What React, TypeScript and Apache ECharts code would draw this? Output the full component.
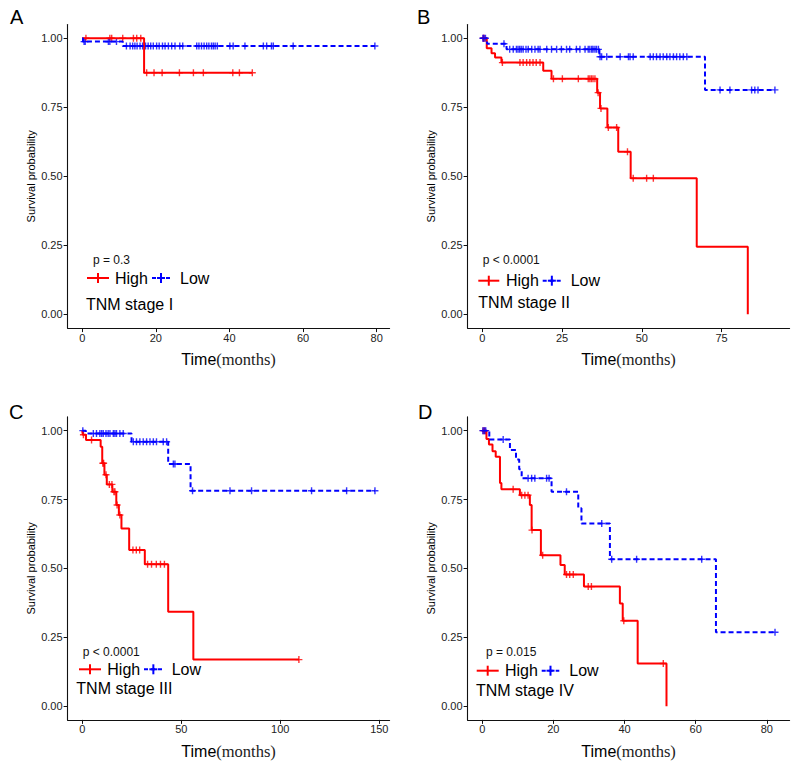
import React, { useEffect, useRef } from "react";
import * as echarts from "echarts";

// ---------- Data ----------
// Panel A – TNM stage I
const A_HIGH_T = [0, 16.8];
const A_HIGH_S = [1.0, 0.875];
const A_HIGH_C = [1.0, 7.5, 8.0, 11.0, 13.9, 14.8, 15.9, 17.5, 19.5, 21.7, 26.4, 30.2, 32.9, 40.9, 42.7, 46.2];
const A_LOW_T = [0, 0.2, 11.0];
const A_LOW_S = [1.0, 0.988, 0.972];
const A_LOW_C = [0.5, 0.8, 7.1, 7.5, 9.3, 12.0, 13.0, 13.7, 14.3, 14.9, 15.7, 16.4, 17.2, 17.9, 18.6, 19.3, 20.2, 20.9, 21.8, 22.5, 23.4, 24.3, 25.2, 26.5, 27.3, 31.1, 31.7, 32.4, 33.1, 33.8, 34.4, 35.1, 35.6, 36.1, 36.7, 40.1, 41.0, 44.2, 49.2, 50.1, 51.4, 51.9, 57.3, 79.5];

// Panel B – TNM stage II
const B_HIGH_T = [0, 1.4, 2.9, 4.0, 6.0, 19.1, 21.7, 36.0, 36.9, 39.2, 42.6, 46.5, 67.2, 83.2];
const B_HIGH_S = [1.0, 0.964, 0.946, 0.93, 0.912, 0.882, 0.853, 0.803, 0.746, 0.677, 0.589, 0.493, 0.245, 0.0];
const B_HIGH_C = [0.3, 0.6, 6.3, 11.8, 12.8, 13.9, 14.9, 15.9, 16.9, 18.1, 22.3, 25.1, 30.1, 33.2, 33.7, 34.2, 34.7, 35.3, 36.3, 37.2, 39.5, 42.1, 45.5, 47.3, 51.5, 53.6];
const B_LOW_T = [0, 1.5, 7.6, 36.7, 69.8];
const B_LOW_S = [1.0, 0.98, 0.96, 0.933, 0.813];
const B_LOW_C = [0.2, 0.5, 1.0, 6.8, 8.6, 9.7, 10.7, 11.2, 11.7, 12.2, 12.8, 13.7, 14.4, 15.5, 16.5, 17.5, 18.1, 20.2, 21.7, 23.3, 24.8, 26.4, 27.4, 29.5, 30.6, 32.2, 33.2, 33.7, 34.3, 34.7, 35.3, 35.8, 36.4, 36.9, 37.4, 39.0, 43.2, 45.8, 46.3, 47.3, 52.6, 53.6, 54.6, 55.7, 56.7, 57.8, 58.8, 59.9, 60.9, 61.9, 63.0, 64.1, 74.5, 77.6, 84.4, 85.4, 86.4, 91.7];

// Panel C – TNM stage III
const C_HIGH_T = [0, 0.3, 1.9, 9.3, 10.1, 11.2, 12.4, 15.2, 17.2, 18.5, 19.8, 23.7, 31.6, 43.4, 56.1];
const C_HIGH_S = [1.0, 0.985, 0.966, 0.942, 0.882, 0.84, 0.805, 0.778, 0.73, 0.694, 0.645, 0.567, 0.515, 0.343, 0.169];
const C_HIGH_C = [0.6, 4.7, 10.4, 10.8, 12.0, 13.7, 15.0, 16.0, 16.5, 17.6, 19.0, 25.6, 27.3, 29.0, 33.0, 35.0, 37.4, 39.5, 41.5, 109.4];
const C_LOW_T = [0, 1.8, 24.9, 43.4, 54.7];
const C_LOW_S = [1.0, 0.99, 0.96, 0.879, 0.782];
const C_LOW_C = [0.3, 5.6, 7.2, 8.9, 9.8, 10.6, 12.0, 13.1, 14.0, 15.7, 16.5, 17.3, 19.0, 20.7, 25.8, 27.4, 29.1, 30.8, 32.5, 34.2, 35.9, 37.5, 40.9, 42.6, 46.0, 46.8, 55.7, 74.6, 85.5, 115.8, 133.5, 147.8];

// Panel D – TNM stage IV
const D_HIGH_T = [0, 1.2, 1.9, 2.9, 3.8, 5.0, 5.4, 10.6, 13.4, 13.9, 16.5, 22.0, 23.2, 28.6, 38.7, 39.5, 43.7, 51.8];
const D_HIGH_S = [1.0, 0.97, 0.95, 0.925, 0.905, 0.81, 0.787, 0.766, 0.73, 0.639, 0.548, 0.512, 0.478, 0.434, 0.373, 0.31, 0.155, 0.0];
const D_HIGH_C = [0.3, 0.75, 8.7, 11.1, 12.0, 12.9, 14.0, 17.0, 23.7, 24.6, 25.6, 29.8, 30.7, 39.8, 50.9];
const D_LOW_T = [0, 2.0, 7.8, 9.5, 10.4, 11.1, 19.5, 27.0, 27.9, 35.9, 65.7];
const D_LOW_S = [1.0, 0.968, 0.93, 0.895, 0.86, 0.827, 0.778, 0.718, 0.663, 0.533, 0.268];
const D_LOW_C = [0.2, 0.6, 1.0, 5.9, 12.9, 13.9, 14.8, 18.1, 18.8, 23.7, 33.6, 36.4, 43.4, 61.7, 82.3];

// Tick labels
const Y_TICKS = [0, 0.25, 0.5, 0.75, 1.0];
const A_X_TICKS = [0, 20, 40, 60, 80];
const B_X_TICKS = [0, 25, 50, 75];
const C_X_TICKS = [0, 50, 100, 150];
const D_X_TICKS = [0, 20, 40, 60, 80];

const LETTERS = ["A", "B", "C", "D"];
const P_TEXTS = ["p = 0.3", "p < 0.0001", "p < 0.0001", "p = 0.015"];
const STAGES = ["TNM stage I", "TNM stage II", "TNM stage III", "TNM stage IV"];
const GROUPS = ["High", "Low"];

// ---------- Layout / style ----------
const RED = "#FF0000";
const BLUE = "#0000FF";
const SANS = "'Liberation Sans', Arial, Helvetica, sans-serif";
const SERIF = "'Liberation Serif', 'Times New Roman', serif";
const CROSS = "path://M0,4H10V6H0Z M4,0H6V10H4Z";

const LAYOUT = [
  { grid: { left: 67.6, top: 24.5, width: 322, height: 303.6 }, xr: [-3.98, 83.5], letter: [10, 17], p: [93, 260], legY: 278, red: [87, 109], high: 115, blue: [152, 170], low: 180, stage: [86, 304] },
  { grid: { left: 467.6, top: 24.5, width: 322, height: 303.6 }, xr: [-4.6, 96.3], letter: [417, 17], p: [482.7, 260], legY: 280.7, red: [478.3, 499.3], high: 506, blue: [542.7, 561], low: 570.7, stage: [478.3, 302.7] },
  { grid: { left: 67.6, top: 416.9, width: 322, height: 303 }, xr: [-7.39, 155.2], letter: [9, 411.5], p: [82.7, 651.7], legY: 669.3, red: [79, 101], high: 107.3, blue: [144, 162.7], low: 171.7, stage: [76.3, 688.3] },
  { grid: { left: 467.6, top: 416.9, width: 322, height: 303 }, xr: [-4.1, 86.4], letter: [418, 411.5], p: [486, 651.7], legY: 670.7, red: [476.7, 498.7], high: 505, blue: [541.7, 559.3], low: 569.3, stage: [476, 690] },
];

const PANELS = [
  { high: [A_HIGH_T, A_HIGH_S, A_HIGH_C], low: [A_LOW_T, A_LOW_S, A_LOW_C], xTicks: A_X_TICKS },
  { high: [B_HIGH_T, B_HIGH_S, B_HIGH_C], low: [B_LOW_T, B_LOW_S, B_LOW_C], xTicks: B_X_TICKS },
  { high: [C_HIGH_T, C_HIGH_S, C_HIGH_C], low: [C_LOW_T, C_LOW_S, C_LOW_C], xTicks: C_X_TICKS },
  { high: [D_HIGH_T, D_HIGH_S, D_HIGH_C], low: [D_LOW_T, D_LOW_S, D_LOW_C], xTicks: D_X_TICKS },
];

function survAt(times: number[], surv: number[], t: number): number {
  let s = surv[0];
  for (let i = 0; i < times.length; i++) if (times[i] <= t) s = surv[i];
  return s;
}

function stepData(times: number[], surv: number[], cens: number[]) {
  const d = times.map((t, i) => [t, surv[i]]);
  const lastC = Math.max(...cens);
  if (lastC > times[times.length - 1]) d.push([lastC, surv[surv.length - 1]]);
  return d;
}

function textEl(x: number, y: number, text: string, fontSize: number, fill = "#000") {
  return {
    type: "text",
    x,
    y,
    style: { text, fontSize, fontFamily: SANS, fill, verticalAlign: "middle", textVerticalAlign: "middle", align: "left", textAlign: "left" },
  };
}

function buildOption() {
  const grid: any[] = [];
  const xAxis: any[] = [];
  const yAxis: any[] = [];
  const series: any[] = [];
  const graphic: any[] = [];

  PANELS.forEach((p, i) => {
    const L = LAYOUT[i];
    grid.push({ ...L.grid, containLabel: false });
    xAxis.push({
      type: "value",
      gridIndex: i,
      min: L.xr[0],
      max: L.xr[1],
      name: "{a|Time}{b|(months)}",
      nameLocation: "middle",
      nameGap: 23,
      nameTextStyle: {
        rich: {
          a: { fontFamily: SANS, fontSize: 16, color: "#000" },
          b: { fontFamily: SERIF, fontSize: 16.5, color: "#222" },
        },
      },
      axisLine: { show: true, onZero: false, lineStyle: { color: "#111", width: 1.1 } },
      axisTick: { show: true, length: 4, customValues: p.xTicks, lineStyle: { color: "#111", width: 1 } },
      axisLabel: { show: true, customValues: p.xTicks, margin: 4, fontSize: 11, color: "#222", fontFamily: SANS },
      splitLine: { show: false },
    });
    yAxis.push({
      type: "value",
      gridIndex: i,
      min: -0.05,
      max: 1.05,
      name: "Survival probability",
      nameLocation: "middle",
      nameRotate: 90,
      nameGap: 31,
      nameTextStyle: { fontFamily: SANS, fontSize: 11, color: "#000" },
      axisLine: { show: true, onZero: false, lineStyle: { color: "#111", width: 1.1 } },
      axisTick: { show: true, length: 4, customValues: Y_TICKS, lineStyle: { color: "#111", width: 1 } },
      axisLabel: {
        show: true,
        customValues: Y_TICKS,
        margin: 5,
        fontSize: 11,
        color: "#222",
        fontFamily: SANS,
        formatter: (v: number) => v.toFixed(2),
      },
      splitLine: { show: false },
    });

    const groups = [
      { name: GROUPS[0], d: p.high, color: RED, dashed: false },
      { name: GROUPS[1], d: p.low, color: BLUE, dashed: true },
    ];
    groups.forEach((g) => {
      const [T, S, C] = g.d as number[][];
      series.push({
        type: "line",
        name: g.name,
        xAxisIndex: i,
        yAxisIndex: i,
        step: "end",
        showSymbol: false,
        symbol: "none",
        data: stepData(T, S, C),
        lineStyle: { color: g.color, width: 2, type: g.dashed ? [5, 3] : "solid" },
        silent: true,
      });
      series.push({
        type: "scatter",
        name: g.name,
        xAxisIndex: i,
        yAxisIndex: i,
        symbol: CROSS,
        symbolSize: 7,
        itemStyle: { color: g.color },
        data: C.map((t) => [t, survAt(T, S, t)]),
        silent: true,
      });
    });

    graphic.push(textEl(L.letter[0], L.letter[1], LETTERS[i], 20));
    graphic.push(textEl(L.p[0], L.p[1], P_TEXTS[i], 12, "#111"));
    // legend keys
    const ry = L.legY;
    const rc = (L.red[0] + L.red[1]) / 2;
    graphic.push({ type: "line", shape: { x1: L.red[0], y1: ry, x2: L.red[1], y2: ry }, style: { stroke: RED, lineWidth: 2 } });
    graphic.push({ type: "line", shape: { x1: rc, y1: ry - 5, x2: rc, y2: ry + 5 }, style: { stroke: RED, lineWidth: 2 } });
    graphic.push(textEl(L.high, ry, GROUPS[0], 16));
    const bc = (L.blue[0] + L.blue[1]) / 2;
    graphic.push({ type: "line", shape: { x1: L.blue[0], y1: ry, x2: L.blue[1], y2: ry }, style: { stroke: BLUE, lineWidth: 2, lineDash: [4, 3] } });
    graphic.push({ type: "line", shape: { x1: bc - 4, y1: ry, x2: bc + 4, y2: ry }, style: { stroke: BLUE, lineWidth: 2 } });
    graphic.push({ type: "line", shape: { x1: bc, y1: ry - 5, x2: bc, y2: ry + 5 }, style: { stroke: BLUE, lineWidth: 2 } });
    graphic.push(textEl(L.low, ry, GROUPS[1], 16));
    graphic.push(textEl(L.stage[0], L.stage[1], STAGES[i], 16));
  });

  return {
    animation: false,
    backgroundColor: "#fff",
    textStyle: { fontFamily: SANS },
    grid,
    xAxis,
    yAxis,
    series,
    graphic,
  };
}

export default function App() {
  const ref = useRef<HTMLDivElement>(null);
  useEffect(() => {
    if (!ref.current) return;
    const chart = echarts.init(ref.current, undefined, { renderer: "svg" });
    chart.setOption(buildOption() as any);
    return () => chart.dispose();
  }, []);
  return (
    <div
      ref={ref}
      style={{ position: "fixed", left: 0, top: 0, width: 800, height: 766, background: "#fff" }}
    />
  );
}
